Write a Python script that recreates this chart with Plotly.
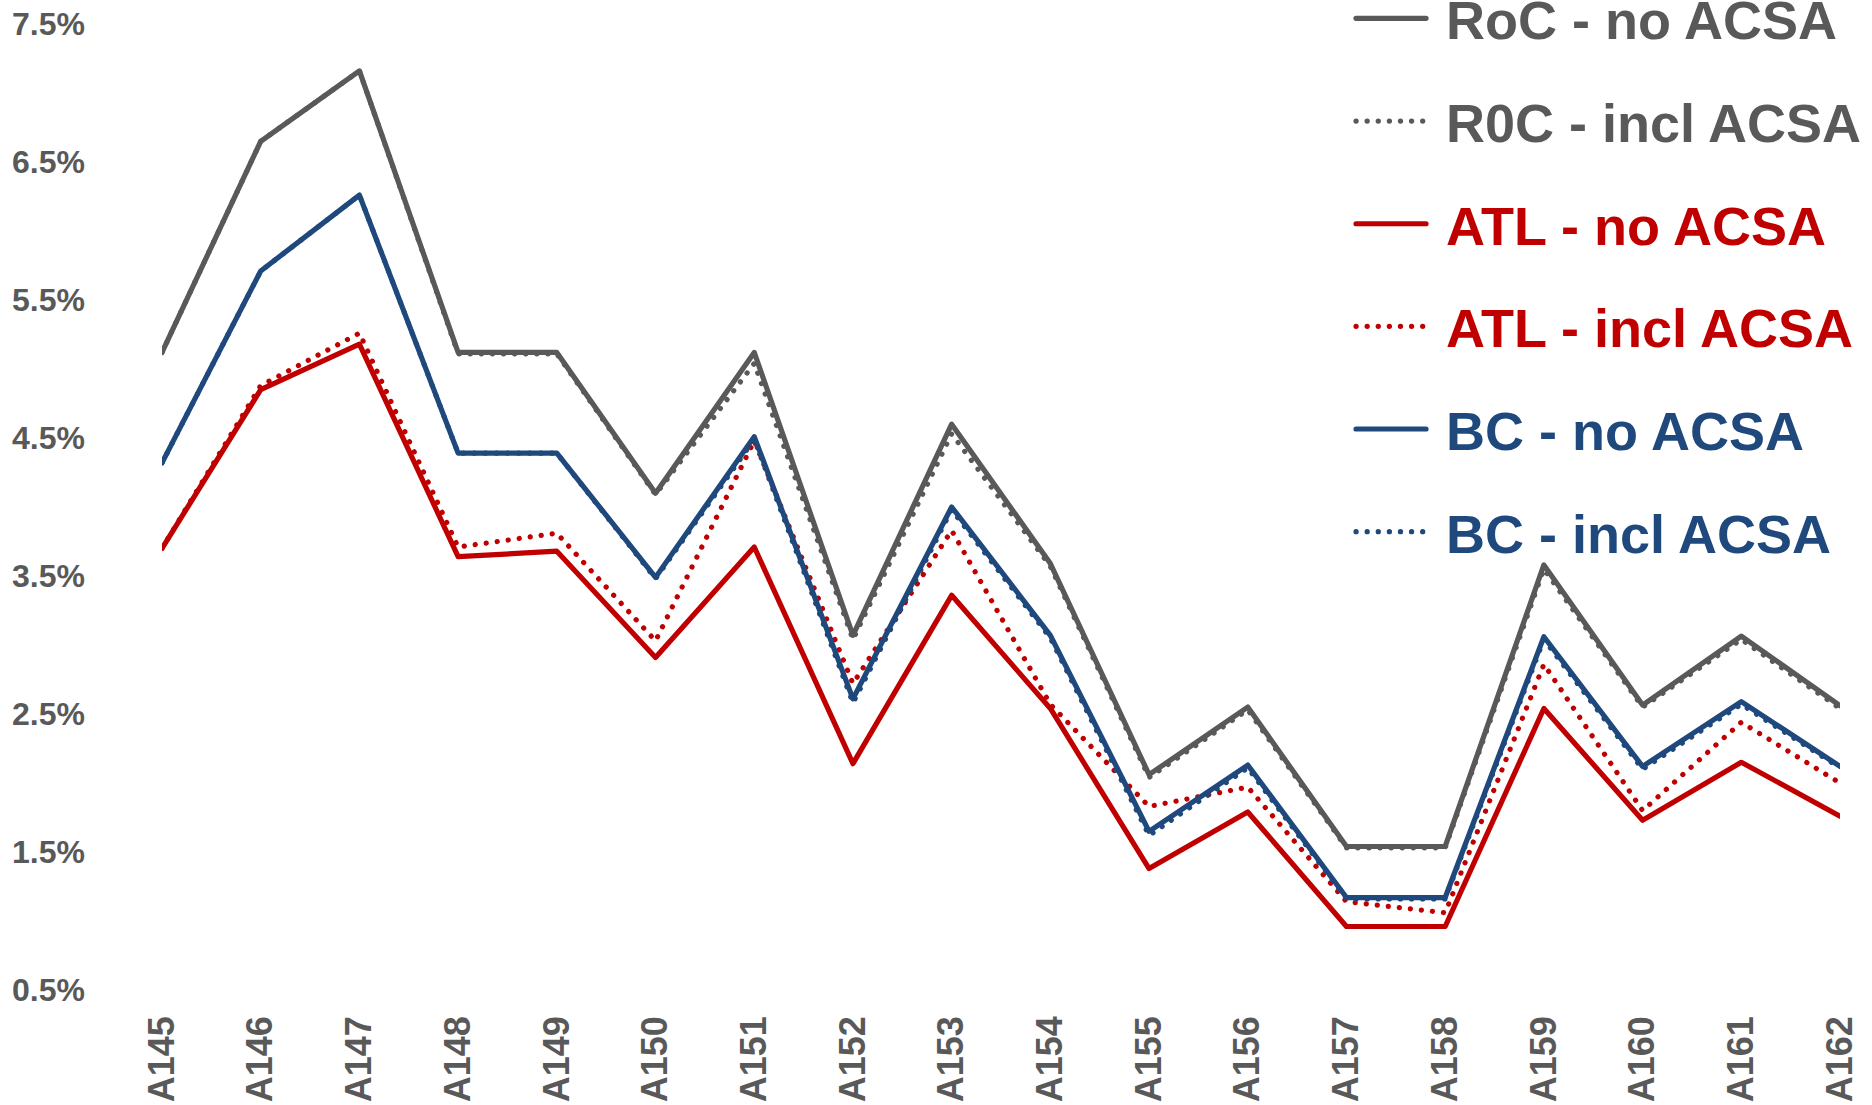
import plotly.graph_objects as go

categories = ["A145", "A146", "A147", "A148", "A149", "A150", "A151", "A152", "A153",
              "A154", "A155", "A156", "A157", "A158", "A159", "A160", "A161", "A162"]

roc_no = [5.12, 6.65, 7.16, 5.12, 5.12, 4.10, 5.12, 3.07, 4.60, 3.59, 2.06, 2.55, 1.54, 1.54, 3.58, 2.565, 3.065, 2.56]
roc_incl = [5.12, 6.65, 7.16, 5.11, 5.11, 4.09, 5.04, 3.04, 4.53, 3.57, 2.04, 2.53, 1.53, 1.53, 3.55, 2.55, 3.04, 2.54]
atl_no = [3.70, 4.85, 5.18, 3.64, 3.68, 2.91, 3.71, 2.14, 3.36, 2.54, 1.38, 1.79, 0.96, 0.96, 2.54, 1.73, 2.15, 1.76]
atl_incl = [3.70, 4.88, 5.26, 3.71, 3.81, 3.03, 4.48, 2.72, 3.83, 2.57, 1.83, 1.97, 1.14, 1.06, 2.86, 1.80, 2.44, 2.00]
bc_no = [4.32, 5.71, 6.26, 4.39, 4.39, 3.49, 4.51, 2.61, 4.00, 3.07, 1.65, 2.13, 1.17, 1.17, 3.06, 2.12, 2.59, 2.12]
bc_incl = [4.32, 5.71, 6.26, 4.39, 4.39, 3.48, 4.49, 2.58, 3.98, 3.05, 1.62, 2.11, 1.16, 1.16, 3.04, 2.10, 2.57, 2.11]

GRAY = "#595959"
RED = "#C00000"
BLUE = "#1F497D"
DOT = "0.1px,11px"

series = [
    ("RoC - no ACSA", roc_no, GRAY, "solid", "legend"),
    ("R0C - incl ACSA", roc_incl, GRAY, DOT, "legend"),
    ("ATL - no ACSA", atl_no, RED, "solid", "legend"),
    ("ATL - incl ACSA", atl_incl, RED, DOT, "legend2"),
    ("BC - no ACSA", bc_no, BLUE, "solid", "legend2"),
    ("BC - incl ACSA", bc_incl, BLUE, DOT, "legend2"),
]

fig = go.Figure()
for i, (name, vals, color, dash, leg) in enumerate(series):
    fig.add_trace(go.Scatter(
        x=list(range(len(categories))), y=vals, mode="lines",
        name=f"<span style='color:{color}'>\u00a0{name}</span>",
        legendgroup=f"g{i}", legend=leg,
        line=dict(color=color, width=5.2, dash=dash),
        hoverinfo="skip",
    ))

LEG_FONT = dict(size=54, family="Liberation Sans, Arial, sans-serif", weight="bold")
common_leg = dict(xanchor="left", yanchor="top", font=LEG_FONT,
                  bgcolor="rgba(0,0,0,0)", itemwidth=70, tracegroupgap=29.5,
                  traceorder="grouped")

fig.update_layout(
    width=1872, height=1105,
    margin=dict(l=162, r=32, t=24, b=115, autoexpand=False),
    paper_bgcolor="white", plot_bgcolor="white",
    font=dict(family="Liberation Sans, Arial, sans-serif", color=GRAY, weight="bold"),
    showlegend=True,
    legend=dict(x=0.7086, y=1.0489, **common_leg),
    legend2=dict(x=0.7086, y=0.7301, **common_leg),
    xaxis=dict(
        range=[0, 17], tickmode="array", tickvals=list(range(len(categories))),
        ticktext=categories, tickangle=-90, showgrid=False, zeroline=False,
        showline=False, ticks="", ticklabelstandoff=18,
        tickfont=dict(size=36, color=GRAY, weight="bold"),
    ),
    yaxis=dict(
        range=[0.5, 7.5], tick0=0.5, dtick=1, tickformat=".1f", ticksuffix="%",
        showgrid=False, zeroline=False, showline=False, ticks="",
        ticklabelstandoff=76,
        tickfont=dict(size=32, color=GRAY, weight="bold"),
    ),
)

post = ("var s=document.createElement('style');"
        "s.textContent='.js-line{stroke-linecap:round;stroke-linejoin:round;}';"
        "document.head.appendChild(s);")
fig.write_html("out.html", post_script=post)
